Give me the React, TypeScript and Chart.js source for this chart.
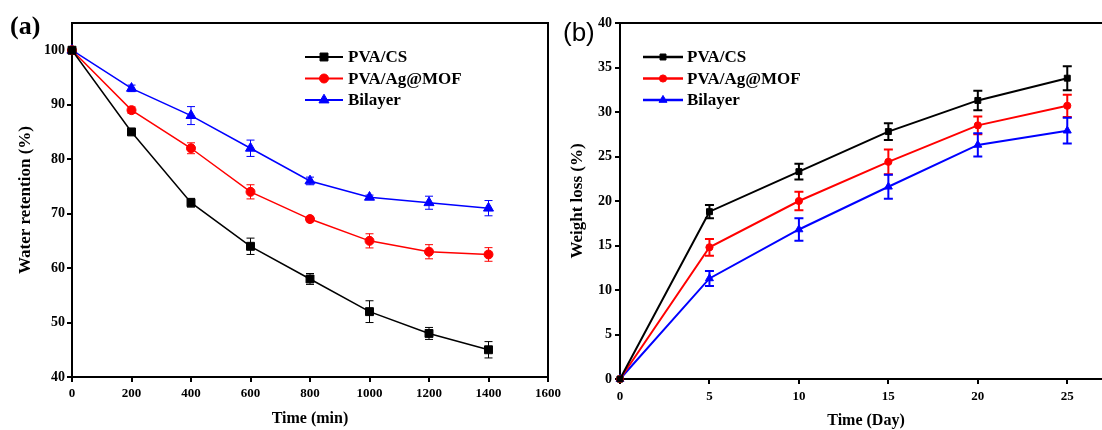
import React, { useEffect, useRef } from 'react';
import { Chart, registerables } from 'chart.js';
import { drawPoint } from 'chart.js/helpers';

Chart.register(...registerables);

// ---- Panel (a): water retention ----
const timeMin = [0, 200, 400, 600, 800, 1000, 1200, 1400];
const retPVACS = [100, 85, 72, 64, 58, 52, 48, 45];
const retPVACSErr = [0, 0.5, 0.8, 1.5, 1.0, 2.0, 1.1, 1.5];
const retAgMOF = [100, 89, 82, 74, 69, 65, 63, 62.5];
const retAgMOFErr = [0, 0.6, 1.0, 1.3, 0.5, 1.3, 1.3, 1.25];
const retBilayer = [100, 93, 88, 82, 76, 73, 72, 71];
const retBilayerErr = [0, 0.6, 1.65, 1.5, 0.7, 0.4, 1.2, 1.4];

// ---- Panel (b): weight loss ----
const timeDay = [0, 5, 10, 15, 20, 25];
const lossPVACS = [0, 18.8, 23.3, 27.8, 31.3, 33.8];
const lossPVACSErr = [0, 0.75, 0.88, 0.94, 1.1, 1.35];
const lossAgMOF = [0, 14.8, 20.0, 24.4, 28.5, 30.7];
const lossAgMOFErr = [0, 0.94, 1.03, 1.4, 1.0, 1.25];
const lossBilayer = [0, 11.3, 16.8, 21.6, 26.3, 27.9];
const lossBilayerErr = [0, 0.84, 1.27, 1.35, 1.3, 1.45];

const seriesNames = ['PVA/CS', 'PVA/Ag@MOF', 'Bilayer'];
const seriesColors = ['#000000', '#ff0000', '#0000ff'];
const seriesShapes = ['rect', 'circle', 'triangle'];

const SERIF = '"Liberation Serif", "Times New Roman", serif';

const errorBarPlugin = {
  id: 'errorBars',
  beforeDatasetsDraw(chart: any, _args: any, opts: any) {
    const { ctx, scales } = chart;
    const xs = scales.x, ys = scales.y;
    chart.data.datasets.forEach((ds: any) => {
      const errs = ds.errors;
      if (!errs) return;
      ctx.save();
      ctx.strokeStyle = ds.borderColor;
      ctx.lineWidth = opts.lineWidth;
      ds.data.forEach((pt: any, j: number) => {
        const e = errs[j];
        if (!e) return;
        const px = xs.getPixelForValue(pt.x);
        const y1 = ys.getPixelForValue(pt.y - e);
        const y2 = ys.getPixelForValue(pt.y + e);
        ctx.beginPath();
        ctx.moveTo(px, y1); ctx.lineTo(px, y2);
        ctx.moveTo(px - opts.cap, y1); ctx.lineTo(px + opts.cap, y1);
        ctx.moveTo(px - opts.cap, y2); ctx.lineTo(px + opts.cap, y2);
        ctx.stroke();
      });
      ctx.restore();
    });
  },
};

const framePlugin = {
  id: 'frame',
  afterDatasetsDraw(chart: any, _args: any, opts: any) {
    const { ctx, chartArea: a } = chart;
    ctx.save();
    ctx.strokeStyle = '#000';
    ctx.lineWidth = opts.lineWidth || 2;
    ctx.beginPath();
    ctx.moveTo(a.left - 1, a.top);
    ctx.lineTo(a.right, a.top);
    ctx.lineTo(a.right, a.bottom + 1);
    ctx.stroke();
    ctx.restore();
  },
};

const customLegendPlugin = {
  id: 'customLegend',
  afterDraw(chart: any, _args: any, opts: any) {
    const { ctx } = chart;
    ctx.save();
    chart.data.datasets.forEach((ds: any, i: number) => {
      const y = opts.y0 + i * opts.dy;
      ctx.strokeStyle = ds.borderColor;
      ctx.fillStyle = ds.borderColor;
      ctx.lineWidth = opts.lineWidth;
      ctx.beginPath();
      ctx.moveTo(opts.x, y);
      ctx.lineTo(opts.x + opts.lineLen, y);
      ctx.stroke();
      ctx.lineWidth = 1;
      drawPoint(ctx, { pointStyle: ds.pointStyle, radius: ds.pointRadius, borderWidth: 1, rotation: 0 } as any,
        opts.x + opts.lineLen / 2, y);
      ctx.fillStyle = '#000';
      ctx.font = opts.font;
      ctx.textAlign = 'left';
      ctx.textBaseline = 'middle';
      ctx.fillText(ds.label, opts.x + opts.lineLen + opts.gap, y + 1);
    });
    ctx.restore();
  },
};

const panelLabelPlugin = {
  id: 'panelLabel',
  afterDraw(chart: any, _args: any, opts: any) {
    const { ctx } = chart;
    ctx.save();
    ctx.fillStyle = '#000';
    ctx.font = opts.font;
    ctx.textAlign = 'left';
    ctx.textBaseline = 'middle';
    ctx.fillText(opts.text, opts.x, opts.y);
    ctx.restore();
  },
};

function makeDatasets(xVals: number[], ys: number[][], errs: number[][], radii: number[], lineWidth: number) {
  return ys.map((vals, i) => ({
    label: seriesNames[i],
    data: xVals.map((x, j) => ({ x, y: vals[j] })),
    errors: errs[i],
    borderColor: seriesColors[i],
    backgroundColor: seriesColors[i],
    pointBackgroundColor: seriesColors[i],
    pointBorderColor: seriesColors[i],
    pointStyle: seriesShapes[i],
    pointRadius: radii[i],
    pointBorderWidth: 1,
    borderWidth: lineWidth,
    showLine: true,
    tension: 0,
    clip: false,
  }));
}

function axis(opts: any) {
  return {
    type: 'linear',
    min: opts.min,
    max: opts.max,
    ticks: {
      stepSize: opts.step,
      includeBounds: false,
      autoSkip: false,
      maxRotation: 0,
      color: '#000',
      padding: opts.tickPad,
      font: { family: SERIF, weight: 'bold', size: opts.tickSize },
      callback: (v: any) => String(v),
    },
    grid: { display: true, drawOnChartArea: false, color: '#000', lineWidth: 2, tickLength: 5 },
    border: { display: true, color: '#000', width: 2 },
    title: {
      display: true,
      text: opts.title,
      color: '#000',
      font: { family: SERIF, weight: 'bold', size: opts.titleSize },
      padding: opts.titlePad,
    },
    afterFit: opts.afterFit,
  };
}

export default function App() {
  const refA = useRef<HTMLCanvasElement>(null);
  const refB = useRef<HTMLCanvasElement>(null);

  useEffect(() => {
    const chartA = new Chart(refA.current as HTMLCanvasElement, {
      type: 'scatter',
      data: {
        datasets: makeDatasets(timeMin, [retPVACS, retAgMOF, retBilayer],
          [retPVACSErr, retAgMOFErr, retBilayerErr], [5.6, 4.5, 5.8], 1.5) as any,
      },
      options: {
        responsive: false,
        animation: false,
        layout: { padding: { top: 23, right: 32, left: 0, bottom: 0 } },
        plugins: {
          legend: { display: false },
          tooltip: { enabled: false },
          errorBars: { lineWidth: 1, cap: 4 },
          frame: { lineWidth: 2 },
          customLegend: { x: 305, y0: 57, dy: 21.5, lineLen: 38, gap: 5, lineWidth: 2, font: `bold 17px ${SERIF}` },
          panelLabel: { text: '(a)', x: 10, y: 27, font: `bold 26px ${SERIF}` },
        } as any,
        scales: {
          x: axis({ min: 0, max: 1600, step: 200, tickPad: 4, tickSize: 13, title: 'Time (min)', titleSize: 16,
            titlePad: { top: 0, bottom: 2 }, afterFit: (s: any) => { s.height = 53; } }),
          y: axis({ min: 40, max: 105, step: 10, tickPad: 2, tickSize: 14, title: 'Water retention (%)', titleSize: 17,
            titlePad: { top: 15, bottom: 0 }, afterFit: (s: any) => { s.width = 72; } }),
        } as any,
      },
      plugins: [errorBarPlugin, framePlugin, customLegendPlugin, panelLabelPlugin],
    });

    const chartB = new Chart(refB.current as HTMLCanvasElement, {
      type: 'scatter',
      data: {
        datasets: makeDatasets(timeDay, [lossPVACS, lossAgMOF, lossBilayer],
          [lossPVACSErr, lossAgMOFErr, lossBilayerErr], [4.2, 3.6, 4.6], 2) as any,
      },
      options: {
        responsive: false,
        animation: false,
        layout: { padding: { top: 23, right: 8, left: 0, bottom: 0 } },
        plugins: {
          legend: { display: false },
          tooltip: { enabled: false },
          errorBars: { lineWidth: 2, cap: 4.5 },
          frame: { lineWidth: 2 },
          customLegend: { x: 83, y0: 57, dy: 21.5, lineLen: 40, gap: 4, lineWidth: 2.5, font: `bold 17px ${SERIF}` },
          panelLabel: { text: '(b)', x: 3, y: 34, font: `26px "Liberation Sans", Arial, sans-serif` },
        } as any,
        scales: {
          x: axis({ min: 0, max: 27.5, step: 5, tickPad: 5, tickSize: 13, title: 'Time (Day)', titleSize: 16,
            titlePad: { top: 0, bottom: 0 }, afterFit: (s: any) => { s.height = 51; } }),
          y: axis({ min: 0, max: 40, step: 5, tickPad: 3, tickSize: 14, title: 'Weight loss (%)', titleSize: 17,
            titlePad: { top: 7, bottom: 0 }, afterFit: (s: any) => { s.width = 60; } }),
        } as any,
      },
      plugins: [errorBarPlugin, framePlugin, customLegendPlugin, panelLabelPlugin],
    });

    return () => {
      chartA.destroy();
      chartB.destroy();
    };
  }, []);

  return (
    <div style={{ position: 'fixed', left: 0, top: 0, width: 1102, height: 430, overflow: 'hidden', background: '#fff' }}>
      <canvas ref={refA} width={580} height={430} style={{ position: 'absolute', left: 0, top: 0, display: 'block' }} />
      <canvas ref={refB} width={560} height={430} style={{ position: 'absolute', left: 560, top: 0, display: 'block' }} />
    </div>
  );
}
